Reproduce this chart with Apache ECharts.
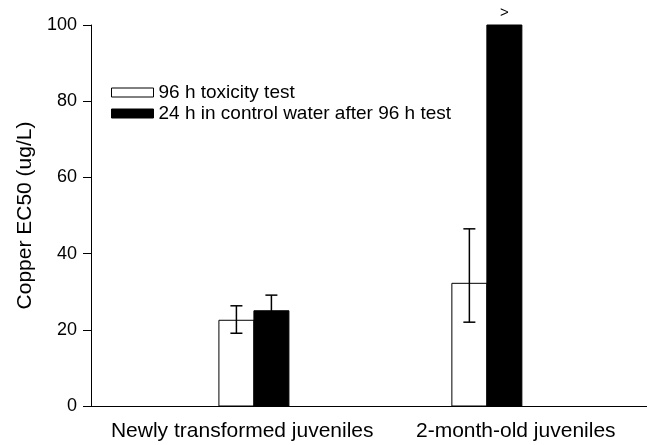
<!DOCTYPE html>
<html>
<head>
<meta charset="utf-8">
<script src="https://cdn.jsdelivr.net/npm/echarts@6/dist/echarts.min.js"></script>
<style>
  html, body { margin: 0; padding: 0; background: #fff; }
  #chart { width: 647px; height: 445px; }
</style>
</head>
<body>
<div id="chart"></div>
<script>
var categories = ['Newly transformed juveniles', '2-month-old juveniles']
var groupPos = [2.93, 7.12]
var labelPos = [2.72, 7.64]

var test96 = [22.5, 32.2]
var test96Low = [19.1, 22.0]
var test96High = [26.3, 46.5]

var control24 = [25.0, 100]
var control24Low = [20.9, null]
var control24High = [29.1, null]
var control24Mark = ['', '>']

var BAR_W = 35
var CAP_W = 12

function rows(vals, lows, highs) {
  return vals.map(function (v, i) {
    return [groupPos[i], v, lows[i] == null ? '-' : lows[i], highs[i] == null ? '-' : highs[i]]
  })
}

function makeRender(side, fill, marks) {
  return function (params, api) {
    var base = api.coord([api.value(0), 0])
    var top = api.coord([api.value(0), api.value(1)])
    var x0 = side < 0 ? base[0] - BAR_W : base[0]
    var cx = x0 + BAR_W / 2
    var children = [{
      type: 'rect',
      shape: { x: x0, y: top[1], width: BAR_W, height: base[1] - top[1] },
      style: { fill: fill, stroke: '#000', lineWidth: 1 }
    }]
    var lo = api.value(2), hi = api.value(3)
    if (!isNaN(lo) && !isNaN(hi)) {
      var pl = api.coord([api.value(0), lo])[1]
      var ph = api.coord([api.value(0), hi])[1]
      var st = { stroke: '#000', lineWidth: 1.5 }
      children.push(
        { type: 'line', shape: { x1: cx, y1: pl, x2: cx, y2: ph }, style: st },
        { type: 'line', shape: { x1: cx - CAP_W / 2, y1: pl, x2: cx + CAP_W / 2, y2: pl }, style: st },
        { type: 'line', shape: { x1: cx - CAP_W / 2, y1: ph, x2: cx + CAP_W / 2, y2: ph }, style: st }
      )
    }
    if (marks && marks[params.dataIndex]) {
      children.push({
        type: 'text',
        style: {
          text: marks[params.dataIndex], x: cx, y: top[1] - 12,
          align: 'center', verticalAlign: 'middle',
          fontFamily: 'Liberation Sans', fontSize: 15, fill: '#000'
        }
      })
    }
    return { type: 'group', children: children }
  }
}

var chart = echarts.init(document.getElementById('chart'), null, { renderer: 'canvas' })
chart.setOption({
  animation: false,
  backgroundColor: '#fff',
  textStyle: { fontFamily: 'Liberation Sans', color: '#000' },
  grid: { left: 91, right: 0, top: 25, bottom: 39, containLabel: false },
  legend: {
    orient: 'vertical',
    left: 106,
    top: 78,
    itemWidth: 42,
    itemHeight: 9,
    itemGap: 2,
    textStyle: { fontSize: 19, color: '#000', fontFamily: 'Liberation Sans' },
    data: [
      { name: '96 h toxicity test', icon: 'rect', itemStyle: { color: '#fff', borderColor: '#000', borderWidth: 1 } },
      { name: '24 h in control water after 96 h test', icon: 'rect', itemStyle: { color: '#000', borderColor: '#000', borderWidth: 1 } }
    ]
  },
  xAxis: {
    type: 'value',
    min: 0,
    max: 10,
    splitLine: { show: false },
    axisLine: { show: true, lineStyle: { color: '#000', width: 1 } },
    axisTick: { show: false },
    axisLabel: {
      customValues: labelPos,
      margin: 15,
      fontSize: 21,
      color: '#000',
      formatter: function (v) {
        var i = labelPos.indexOf(v)
        return i >= 0 ? categories[i] : ''
      }
    }
  },
  yAxis: {
    type: 'value',
    min: 0,
    max: 100,
    interval: 20,
    name: 'Copper EC50 (ug/L)',
    nameLocation: 'middle',
    nameGap: 55,
    nameTextStyle: { fontSize: 21, color: '#000' },
    splitLine: { show: false },
    axisLine: { show: true, lineStyle: { color: '#000', width: 1 } },
    axisTick: { show: true, length: 8, lineStyle: { color: '#000' } },
    axisLabel: { fontSize: 18, color: '#000', margin: 14 }
  },
  series: [{
    name: '96 h toxicity test',
    type: 'custom',
    itemStyle: { color: '#fff', borderColor: '#000' },
    encode: { x: 0, y: [1, 2, 3] },
    renderItem: makeRender(-1, '#fff', null),
    data: rows(test96, test96Low, test96High)
  }, {
    name: '24 h in control water after 96 h test',
    type: 'custom',
    itemStyle: { color: '#000' },
    encode: { x: 0, y: [1, 2, 3] },
    renderItem: makeRender(1, '#000', control24Mark),
    data: rows(control24, control24Low, control24High)
  }]
})
</script>
</body>
</html>
